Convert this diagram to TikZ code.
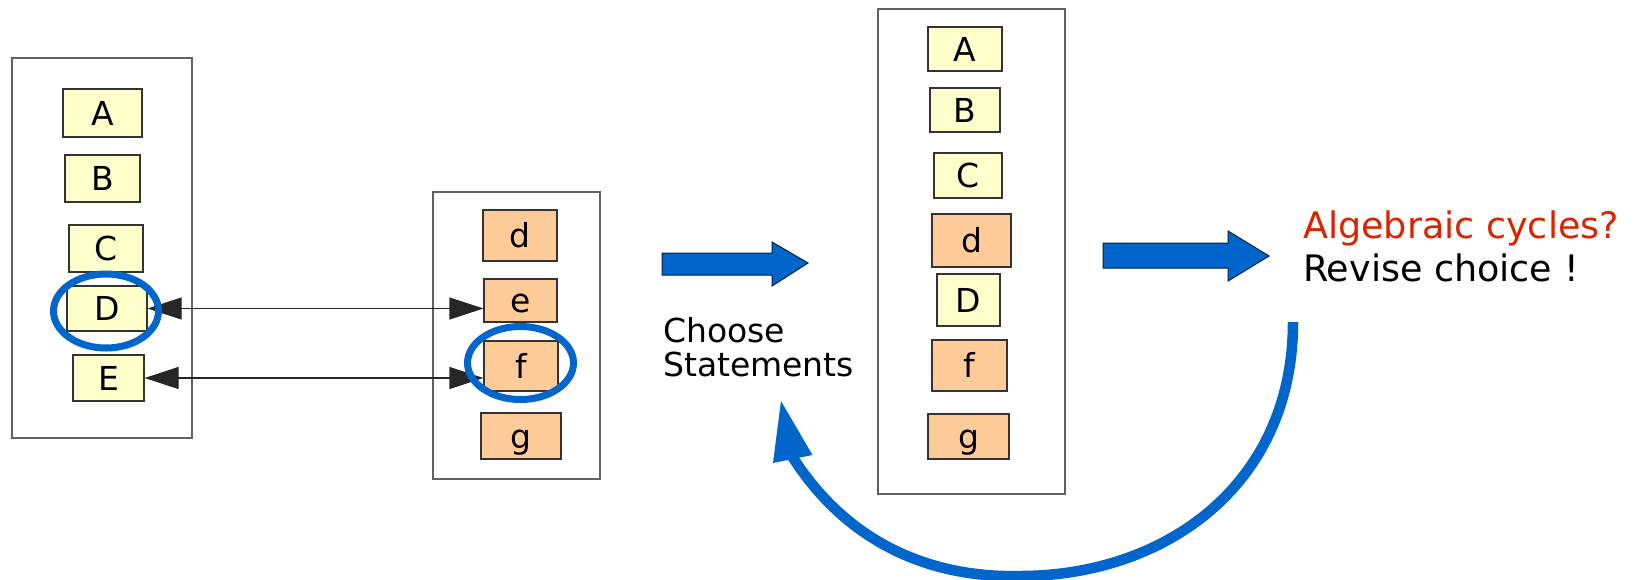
\documentclass[tikz,border=0pt]{standalone}
\usepackage{fontspec}
\setmainfont{DejaVu Sans}
\usetikzlibrary{arrows.meta}
\definecolor{boxyellow}{HTML}{FFFFCC}
\definecolor{boxorange}{HTML}{FFCC99}
\definecolor{flowblue}{HTML}{0066CC}
\definecolor{alertred}{HTML}{DC2300}

\tikzset{
  group/.style={draw=black!62, line width=1.5pt},
  stmt/.style={draw=black!80, line width=1.2pt, inner sep=0pt,
    font=\fontsize{33}{33}\selectfont, text height=24pt, text depth=0pt},
  upper/.style={stmt, fill=boxyellow},
  lower/.style={stmt, fill=boxorange},
  link/.style={draw=black!85, line width=1.2pt,
    {Triangle[length=34pt,width=22pt]}-{Triangle[length=34pt,width=22pt]}},
  ring/.style={draw=flowblue, line width=7pt},
  blockarrow/.style={fill=flowblue, draw=black!70!flowblue, line width=1pt, line join=miter},
  loopline/.style={draw=flowblue, line width=10.5pt},
  caption/.style={inner sep=0pt, anchor=base west, font=\fontsize{33}{33}\selectfont},
  remark/.style={inner sep=0pt, anchor=base west, font=\fontsize{36.5}{36.5}\selectfont},
}

\begin{document}
\begin{tikzpicture}[x=1pt, y=-1pt]
\useasboundingbox (0,0) rectangle (1644,579);

% first group: upper-case statements
\draw[group] (12,58) rectangle (192,438);
\node[upper, minimum width=79, minimum height=48] (A1) at (102.5,113) {A};
\node[upper, minimum width=75, minimum height=47] (B1) at (102.5,178.5) {B};
\node[upper, minimum width=74, minimum height=47] (C1) at (106,248.5) {C};
\node[upper, minimum width=80, minimum height=45] (D1) at (107,308.5) {D};
\node[upper, minimum width=71, minimum height=46] (E1) at (108.5,378) {E};

% second group: lower-case statements
\draw[group] (433,192) rectangle (600,479);
\node[lower, minimum width=74, minimum height=51] (d2) at (520,235.5) {d};
\node[lower, minimum width=73, minimum height=43] (e2) at (520.5,300.5) {e};
\node[lower, minimum width=74, minimum height=50] (f2) at (521,366) {f};
\node[lower, minimum width=80, minimum height=46] (g2) at (521,436) {g};

% links between the two groups
\draw[link] (D1.east) -- (D1.east -| e2.west);
\draw[link] (E1.east) -- (E1.east -| f2.west);

% highlighted statements
\draw[ring] (106,311) ellipse [x radius=52.5pt, y radius=37pt];
\draw[ring] (520.5,363) ellipse [x radius=53pt, y radius=36.5pt];

% first step
\draw[blockarrow] (662,253) -- (772,253) -- (772,242) -- (808,263)
  -- (772,286) -- (772,275) -- (662,275) -- cycle;
\node[caption] (choose) at (663,342) {Choose};
\node[caption] (statements) at (663,376) {Statements};

% merged ordering
\draw[group] (878,9) rectangle (1065,494);
\node[upper, minimum width=74, minimum height=44] (A3) at (965,49) {A};
\node[upper, minimum width=70, minimum height=44] (B3) at (965,110) {B};
\node[upper, minimum width=68, minimum height=45] (C3) at (968,175.5) {C};
\node[lower, minimum width=79, minimum height=53] (d3) at (971.5,240.5) {d};
\node[upper, minimum width=63, minimum height=52] (D3) at (968.5,300) {D};
\node[lower, minimum width=75, minimum height=51] (f3) at (969.5,365.5) {f};
\node[lower, minimum width=81, minimum height=45] (g3) at (968.5,436.5) {g};

% second step
\draw[blockarrow] (1103,243) -- (1228,243) -- (1228,231) -- (1269,256)
  -- (1228,281) -- (1228,268) -- (1103,268) -- cycle;
\node[remark, text=alertred] (cycles) at (1303,238) {Algebraic cycles?};
\node[remark] (revise) at (1303,281.5) {Revise choice !};

% feedback loop back to the choice; the stroke ends inside its head
\coordinate (loopstart) at (1293,322);
\coordinate (loopbottom) at (1020,576);
\coordinate (loopend) at (790,453);
\coordinate (looptip) at (781,401);
\coordinate (loopwingL) at (773,463);
\coordinate (loopwingR) at (812.5,455);
\draw[loopline] (loopstart) .. controls (1293,485) and (1165,576) .. (loopbottom)
  .. controls (940,578) and (850,550) .. (loopend);
\fill[flowblue] (looptip) -- (loopwingL) -- (loopwingR) -- cycle;
\end{tikzpicture}
\end{document}
